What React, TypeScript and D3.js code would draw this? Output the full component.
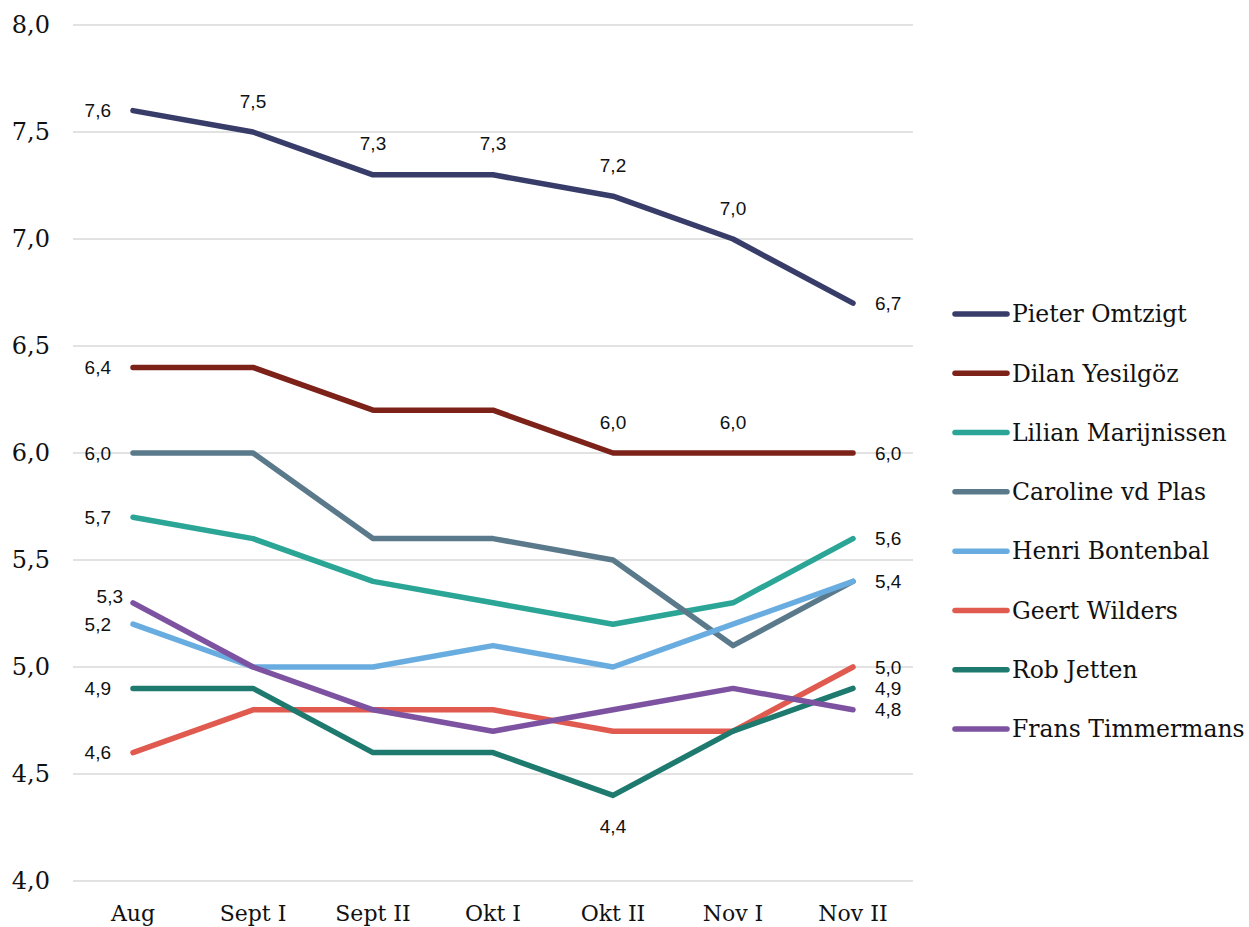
import React from "react";
import * as d3 from "d3";

const periods = ["Aug", "Sept I", "Sept II", "Okt I", "Okt II", "Nov I", "Nov II"];
const yTicks = [4.0, 4.5, 5.0, 5.5, 6.0, 6.5, 7.0, 7.5, 8.0];

const names = [
  "Pieter Omtzigt",
  "Dilan Yesilgöz",
  "Lilian Marijnissen",
  "Caroline vd Plas",
  "Henri Bontenbal",
  "Geert Wilders",
  "Rob Jetten",
  "Frans Timmermans",
];
const colors = ["#383c69", "#7d2219", "#2aa596", "#5a7a8b", "#69ade0", "#e05a4f", "#1e7a6e", "#7d52a0"];

const omtzigt = [7.6, 7.5, 7.3, 7.3, 7.2, 7.0, 6.7];
const yesilgoz = [6.4, 6.4, 6.2, 6.2, 6.0, 6.0, 6.0];
const marijnissen = [5.7, 5.6, 5.4, 5.3, 5.2, 5.3, 5.6];
const vdPlas = [6.0, 6.0, 5.6, 5.6, 5.5, 5.1, 5.4];
const bontenbal = [5.2, 5.0, 5.0, 5.1, 5.0, 5.2, 5.4];
const wilders = [4.6, 4.8, 4.8, 4.8, 4.7, 4.7, 5.0];
const jetten = [4.9, 4.9, 4.6, 4.6, 4.4, 4.7, 4.9];
const timmermans = [5.3, 5.0, 4.8, 4.7, 4.8, 4.9, 4.8];
const seriesValues = [omtzigt, yesilgoz, marijnissen, vdPlas, bontenbal, wilders, jetten, timmermans];

// which points get a data label, and where: [pointIndex, placement]
const labelSpecs: [number, string][][] = [
  [[0, "left"], [1, "above"], [2, "above"], [3, "above"], [4, "above"], [5, "above"], [6, "right"]],
  [[0, "left"], [4, "above"], [5, "above"], [6, "right"]],
  [[0, "left"], [6, "right"]],
  [[0, "left"]],
  [[0, "left"], [6, "right"]],
  [[0, "left"], [6, "right"]],
  [[0, "left"], [4, "below"], [6, "right"]],
  [[0, "leftUp"], [6, "right"]],
];

const fmt = (v: number) => v.toFixed(1).replace(".", ",");

export default function App() {
  const W = 1249, H = 927;
  const plotL = 73, plotR = 913, plotT = 25, plotB = 881;
  const x = d3.scaleBand<string>().domain(periods).range([plotL, plotR]);
  const y = d3.scaleLinear().domain([4, 8]).range([plotB, plotT]);
  const cx = (i: number) => (x(periods[i]) as number) + x.bandwidth() / 2;
  const line = d3.line<number>().x((_, i) => cx(i)).y((v) => y(v));

  const serif = "'DejaVu Serif', serif";
  const sans = "'Liberation Sans', Arial, sans-serif";

  const legendY = d3.scalePoint<string>().domain(names).range([314, 729]);

  return (
    <svg width={W} height={H} style={{ position: "absolute", left: 0, top: 0, background: "#fff" }}>
      {yTicks.map((t) => (
        <g key={t}>
          <line x1={plotL} x2={plotR} y1={y(t)} y2={y(t)} stroke="#d9d9d9" strokeWidth={1.5} />
          <text x={50} y={y(t)} dy="0.35em" textAnchor="end" fontFamily={serif} fontSize={24} fill="#111">
            {fmt(t)}
          </text>
        </g>
      ))}
      {periods.map((p, i) => (
        <text key={p} x={cx(i)} y={913} dy="0.35em" textAnchor="middle" fontFamily={serif} fontSize={22} fill="#111">
          {p}
        </text>
      ))}
      {seriesValues.map((vals, s) => (
        <path key={names[s]} d={line(vals) as string} fill="none" stroke={colors[s]} strokeWidth={5.5}
          strokeLinecap="round" strokeLinejoin="round" />
      ))}
      {seriesValues.map((vals, s) =>
        labelSpecs[s].map(([i, pos]) => {
          let lx = cx(i), ly = y(vals[i]), anchor = "middle";
          if (pos === "left") { lx -= 22; anchor = "end"; }
          else if (pos === "leftUp") { lx -= 10; ly -= 6; anchor = "end"; }
          else if (pos === "right") { lx += 22; anchor = "start"; }
          else if (pos === "above") { ly -= 31; }
          else if (pos === "below") { ly += 31; }
          return (
            <text key={`${s}-${i}`} x={lx} y={ly} dy="0.35em" textAnchor={anchor} fontFamily={sans} fontSize={19} fill="#111">
              {fmt(vals[i])}
            </text>
          );
        })
      )}
      {names.map((n, s) => (
        <g key={n} transform={`translate(0,${legendY(n)})`}>
          <line x1={955} x2={1007} y1={0} y2={0} stroke={colors[s]} strokeWidth={5.5} strokeLinecap="round" />
          <text x={1012} y={0} dy="0.35em" fontFamily={serif} fontSize={23.5} fill="#111">{n}</text>
        </g>
      ))}
    </svg>
  );
}
